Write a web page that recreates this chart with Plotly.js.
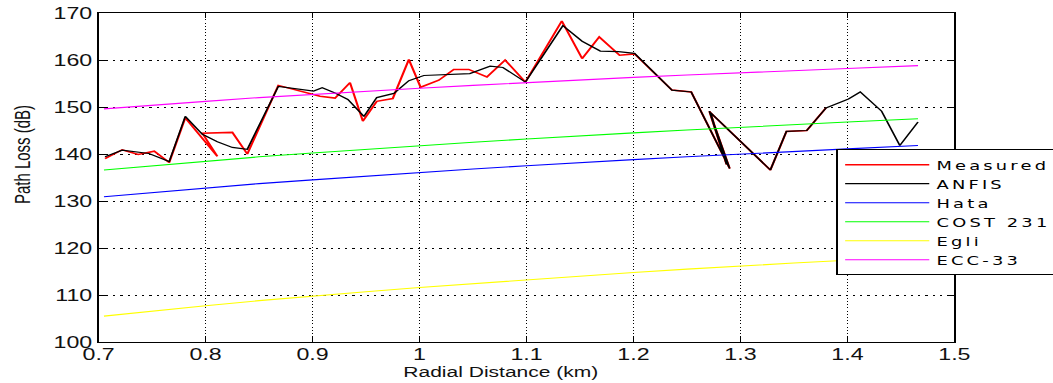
<!DOCTYPE html>
<html>
<head>
<meta charset="utf-8">
<script src="https://cdn.plot.ly/plotly-3.0.1.min.js"></script>
<style>
  html, body { margin: 0; padding: 0; background: #fff; width: 1053px; height: 383px; overflow: hidden; }
  /* the figure is laid out narrow and widened, giving the broad lettering of the original export */
  #plot { width: 726px; height: 383px; transform: scaleX(1.45041); transform-origin: 0 0; }
  /* legend entries are spaced out a little more than the axis text */
  .legendtext { letter-spacing: 2.2px; }
  /* legend frame runs on past the right edge of the figure */
  .legend rect.bg { width: 220px; }
  /* keep the dotted grid sharp */
  .gridlayer path { shape-rendering: crispEdges; }
</style>
</head>
<body>
<div id="plot"></div>
<script>
// Measured path loss along the drive route (samples in recorded order)
const measuredDist = [0.706, 0.722, 0.737, 0.752, 0.766, 0.781, 0.811, 0.797, 0.825, 0.839,
  0.868, 0.907, 0.921, 0.935, 0.947, 0.960, 0.975, 0.990, 1.001, 1.018,
  1.032, 1.046, 1.063, 1.080, 1.099, 1.133, 1.152, 1.168, 1.187, 1.201,
  1.236, 1.254, 1.290, 1.271, 1.287, 1.272, 1.328, 1.343, 1.362, 1.380];
const measuredLoss = [139.0, 140.9, 139.9, 140.6, 138.2, 147.7, 139.5, 144.4, 144.6, 140.0,
  154.6, 152.3, 151.9, 155.2, 147.0, 151.2, 151.8, 160.1, 154.2, 155.7,
  158.0, 158.0, 156.4, 160.0, 155.3, 168.3, 160.3, 164.9, 161.0, 161.3,
  153.6, 153.2, 136.9, 149.1, 137.8, 148.8, 136.6, 144.8, 145.0, 149.8];

// ANFIS prediction
const anfisDist = [0.706, 0.722, 0.747, 0.766, 0.781, 0.797, 0.811, 0.825, 0.839, 0.868,
  0.901, 0.909, 0.921, 0.933, 0.948, 0.960, 0.976, 0.990, 1.004, 1.025,
  1.047, 1.066, 1.078, 1.099, 1.134, 1.152, 1.169, 1.186, 1.201, 1.236,
  1.254, 1.290, 1.271, 1.287, 1.272, 1.328, 1.343, 1.362, 1.380, 1.401,
  1.412, 1.432, 1.449, 1.466];
const anfisLoss = [139.4, 140.8, 140.1, 138.4, 148.0, 144.2, 142.6, 141.4, 141.0, 154.4,
  153.4, 154.1, 153.0, 151.6, 148.0, 152.0, 152.9, 155.6, 156.7, 156.9,
  157.1, 158.7, 158.4, 155.3, 167.3, 164.0, 161.9, 161.8, 161.4, 153.6,
  153.2, 136.9, 149.1, 137.8, 148.8, 136.6, 144.8, 145.0, 149.8, 151.7,
  153.2, 149.1, 141.8, 146.8];

// Empirical models evaluated along the route
const modelDist = [0.705, 0.75, 0.8, 0.85, 0.9, 0.95, 1.0, 1.05, 1.1, 1.15, 1.2, 1.25, 1.3, 1.35, 1.4, 1.466];
const hataLoss  = [130.9, 131.8, 132.8, 133.7, 134.5, 135.3, 136.1, 136.8, 137.5, 138.2, 138.8, 139.4, 140.0, 140.6, 141.1, 141.8];
const cost231Loss = [136.6, 137.5, 138.5, 139.4, 140.2, 141.0, 141.8, 142.5, 143.2, 143.9, 144.5, 145.1, 145.7, 146.3, 146.8, 147.5];
const egliLoss  = [105.5, 106.6, 107.7, 108.8, 109.8, 110.7, 111.6, 112.4, 113.3, 114.0, 114.8, 115.5, 116.2, 116.8, 117.4, 118.2];
const ecc33Loss = [149.6, 150.4, 151.2, 152.0, 152.7, 153.4, 154.0, 154.6, 155.2, 155.8, 156.3, 156.8, 157.3, 157.8, 158.2, 158.8];

const xTickVals = [0.7, 0.8, 0.9, 1.0, 1.1, 1.2, 1.3, 1.4, 1.5];
const xTickText = ['0.7', '0.8', '0.9', '1', '1.1', '1.2', '1.3', '1.4', '1.5'];
const yTickVals = [100, 110, 120, 130, 140, 150, 160, 170];

const line = (x, y, name, color, width) => ({
  x: x, y: y, name: name, type: 'scatter', mode: 'lines',
  line: { color: color, width: width }, hoverinfo: 'skip'
});

const traces = [
  line(measuredDist, measuredLoss, 'Measured', '#ff0000', 1.5),
  line(anfisDist, anfisLoss, 'ANFIS', '#000000', 1.2),
  line(modelDist, hataLoss, 'Hata', '#0000ff', 1.1),
  line(modelDist, cost231Loss, 'COST 231', '#00ff00', 1.1),
  line(modelDist, egliLoss, 'Egli', '#ffff00', 1.1),
  line(modelDist, ecc33Loss, 'ECC-33', '#ff00ff', 1.1)
];

const tickFont = { family: 'Liberation Sans, Arial, sans-serif', size: 16, color: '#111' };

const axisCommon = {
  ticks: 'inside', ticklen: 5, tickwidth: 1, tickcolor: '#000',
  showline: true, linecolor: '#000', linewidth: 1.2, mirror: 'ticks',
  showgrid: true, gridcolor: '#000', gridwidth: 1,
  zeroline: false, tickfont: tickFont, fixedrange: true
};

const layout = {
  width: 726, height: 383,
  margin: { l: 67.57, r: 67.56, t: 13, b: 41, pad: 0, autoexpand: false },
  paper_bgcolor: '#ffffff', plot_bgcolor: '#ffffff',
  font: tickFont,
  xaxis: Object.assign({}, axisCommon, {
    range: [0.7, 1.5], tickmode: 'array', tickvals: xTickVals, ticktext: xTickText,
    griddash: '1px,2.2px', ticklabelstandoff: -2
  }),
  yaxis: Object.assign({}, axisCommon, {
    range: [100, 170], tickmode: 'array', tickvals: yTickVals,
    griddash: '1.5px,3.5px'
  }),
  showlegend: true,
  legend: {
    x: 0.8622, y: 0.5860, xanchor: 'left', yanchor: 'top',
    bgcolor: '#ffffff', bordercolor: '#000', borderwidth: 1,
    font: { family: 'DejaVu Sans, sans-serif', size: 12.3, color: '#000' },
    itemwidth: 58, tracegroupgap: 0
  },
  annotations: [
    { text: 'Radial Distance (km)', xref: 'paper', yref: 'paper', x: 0.470, y: -0.092,
      xanchor: 'center', yanchor: 'middle', showarrow: false,
      font: { family: 'Liberation Sans, Arial, sans-serif', size: 14.5, color: '#111' } },
    { text: 'Path Loss (dB)', xref: 'paper', yref: 'paper', x: -0.0898, y: 0.568,
      xanchor: 'center', yanchor: 'middle', textangle: -90, showarrow: false,
      font: { family: 'Liberation Sans, Arial, sans-serif', size: 15, color: '#111' } }
  ]
};

Plotly.newPlot('plot', traces, layout, { staticPlot: true, displayModeBar: false });
</script>
</body>
</html>
